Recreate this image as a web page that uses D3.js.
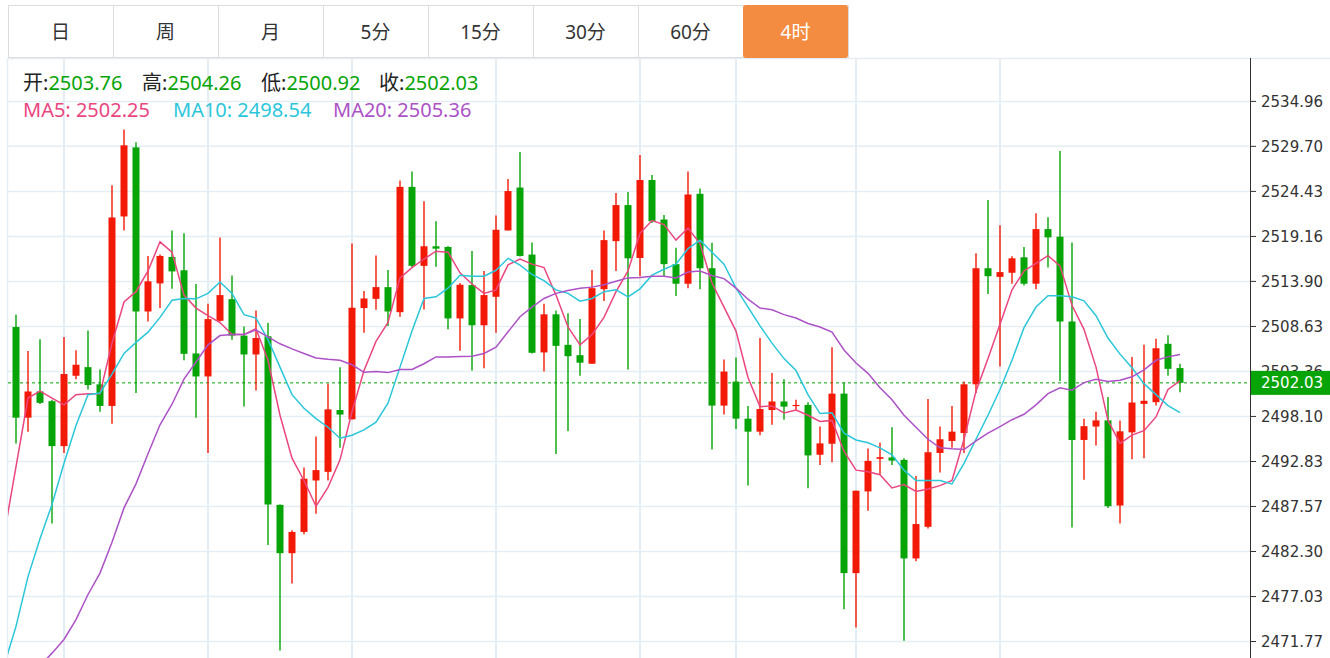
<!DOCTYPE html>
<html>
<head>
<meta charset="utf-8">
<script src="https://cdn.jsdelivr.net/npm/d3@7"></script>
<style>
body { margin: 0; background: #fff; }
svg { display: block; }
</style>
</head>
<body>
<div id="chart"></div>
<script>
const W = 1330, H = 658;
const plot = {left: 8, right: 1250, top: 58, bottom: 658};

const tabLabels = ["日", "周", "月", "5分", "15分", "30分", "60分", "4时"];
const activeTab = "4时";

// 4h bars, oldest first (98 visible bars)
const openVals = [2508.57,2497.96,2501.02,2499.89,2494.63,2502.86,2503.87,2501.86,2499.33,2521.50,
  2529.58,2510.38,2513.67,2516.76,2515.20,2505.47,2502.78,2509.29,2511.82,2507.56,
  2505.35,2507.48,2487.76,2482.10,2484.59,2490.61,2491.62,2498.85,2497.76,2510.78,
  2511.86,2513.23,2510.30,2524.96,2515.72,2518.01,2517.93,2509.57,2513.47,2508.77,
  2512.10,2519.86,2524.88,2517.04,2505.59,2510.05,2506.48,2505.27,2504.27,2512.99,
  2518.61,2522.83,2516.64,2525.76,2521.14,2515.92,2513.63,2524.15,2515.44,2499.37,
  2502.18,2497.84,2496.32,2498.85,2499.85,2499.33,2499.45,2493.62,2494.91,2500.77,
  2479.77,2489.33,2493.14,2493.30,2493.02,2481.49,2485.19,2493.83,2495.23,2496.16,
  2501.86,2515.44,2514.43,2514.91,2516.72,2513.63,2520.02,2519.13,2509.21,2495.35,
  2496.92,2497.64,2487.68,2496.24,2499.57,2499.77,2506.60,2503.76];
const highVals = [2510.01,2505.76,2507.12,2500.05,2507.40,2505.84,2508.17,2503.59,2525.16,2531.67,
  2530.18,2516.88,2517.04,2519.86,2519.53,2513.59,2511.30,2519.05,2514.59,2508.61,
  2510.50,2509.05,2487.80,2484.79,2492.14,2495.75,2501.94,2503.87,2518.33,2512.79,
  2516.92,2515.24,2525.72,2526.76,2523.27,2520.94,2518.01,2513.71,2517.45,2515.12,
  2521.62,2525.88,2529.05,2518.45,2511.30,2510.50,2510.17,2509.49,2515.24,2519.86,
  2524.23,2524.35,2528.69,2526.36,2521.66,2517.85,2526.76,2524.76,2518.41,2504.75,
  2504.99,2499.33,2507.28,2503.18,2502.46,2500.05,2499.77,2496.92,2506.20,2502.06,
  2489.41,2494.35,2495.03,2496.84,2493.22,2491.13,2500.13,2496.92,2499.33,2502.18,
  2517.20,2523.43,2520.46,2516.84,2517.93,2521.86,2521.42,2529.17,2518.45,2497.84,
  2498.65,2500.37,2497.64,2505.07,2506.48,2507.20,2507.60,2504.26];
const lowVals = [2494.95,2496.32,2499.55,2485.59,2493.83,2502.46,2501.26,2498.65,2497.24,2519.86,
  2500.85,2509.21,2510.78,2513.03,2504.67,2497.96,2493.83,2509.21,2507.08,2499.25,
  2501.14,2483.06,2470.73,2478.56,2484.31,2486.71,2490.61,2494.43,2497.76,2507.88,
  2510.58,2508.69,2509.77,2515.52,2510.62,2515.60,2508.29,2505.80,2503.47,2503.75,
  2507.88,2519.86,2516.80,2505.47,2503.35,2493.70,2496.36,2502.86,2504.27,2511.62,
  2515.12,2503.59,2514.51,2520.74,2514.51,2512.18,2513.11,2512.99,2494.23,2498.32,
  2496.64,2490.01,2495.91,2497.12,2497.72,2498.85,2489.69,2492.42,2492.74,2475.55,
  2473.42,2487.08,2491.33,2492.42,2471.85,2481.17,2484.99,2491.54,2494.43,2493.83,
  2500.85,2512.42,2503.95,2513.63,2513.43,2512.99,2515.52,2502.26,2485.11,2490.69,
  2494.71,2487.40,2485.59,2493.10,2493.22,2499.37,2502.86,2500.92];
const closeVals = [2497.96,2501.02,2499.69,2494.63,2503.06,2504.15,2501.78,2499.33,2521.38,2529.82,
  2510.38,2513.91,2516.88,2515.07,2505.43,2502.78,2509.49,2512.30,2507.56,2505.35,
  2507.28,2487.80,2482.10,2484.59,2490.81,2491.82,2498.93,2498.32,2510.82,2511.90,
  2513.23,2510.38,2524.96,2515.72,2518.01,2517.73,2509.57,2513.51,2508.77,2512.30,
  2519.94,2524.47,2516.88,2505.55,2510.05,2506.36,2505.15,2504.39,2513.11,2518.73,
  2522.83,2516.60,2525.76,2520.94,2515.92,2513.63,2524.07,2515.44,2499.37,2503.35,
  2497.84,2496.32,2498.97,2499.85,2499.25,2499.45,2493.54,2494.95,2500.77,2479.77,
  2489.41,2492.90,2493.34,2492.94,2481.49,2485.51,2493.91,2495.43,2496.32,2501.86,
  2515.44,2514.51,2514.99,2516.60,2513.63,2520.02,2519.05,2509.21,2495.35,2496.96,
  2497.64,2487.60,2496.36,2499.73,2499.93,2506.08,2503.67,2502.03];

// moving averages; first entry is the bar just left of the view
const ma5Vals = [2484.18,2492.22,2500.25,2501.06,2500.25,2499.45,2500.65,2500.77,2500.77,2506.68,
  2511.50,2512.70,2515.12,2518.53,2517.32,2512.30,2510.78,2509.89,2509.09,2507.68,
  2507.68,2508.37,2504.67,2498.24,2493.22,2490.61,2487.60,2489.81,2493.02,2498.65,
  2503.47,2506.88,2509.09,2514.31,2515.52,2516.52,2517.44,2517.32,2514.91,2513.59,
  2512.50,2512.91,2515.84,2516.52,2515.92,2515.52,2512.30,2508.57,2506.48,2507.68,
  2509.69,2512.70,2515.12,2519.53,2521.02,2520.54,2518.73,2520.14,2518.33,2513.71,
  2510.90,2508.09,2502.66,2499.25,2499.33,2498.52,2498.85,2498.24,2497.52,2497.64,
  2494.03,2491.82,2491.62,2491.29,2489.73,2490.13,2489.33,2489.61,2490.01,2490.61,
  2495.43,2501.06,2504.87,2508.89,2512.91,2515.12,2516.00,2516.92,2515.72,2511.10,
  2508.29,2503.87,2497.64,2494.95,2495.91,2496.44,2498.04,2501.26,2502.25];
const ma10Vals = [2468.92,2473.54,2479.36,2483.78,2487.80,2492.62,2497.04,2500.65,2500.85,2503.06,
  2505.47,2506.76,2507.96,2509.69,2511.70,2511.90,2511.86,2512.50,2513.83,2512.50,
  2510.01,2509.61,2507.08,2503.87,2500.65,2499.05,2497.84,2496.84,2495.55,2495.91,
  2496.52,2497.44,2499.65,2503.87,2508.09,2511.90,2512.10,2513.11,2514.63,2514.51,
  2514.51,2515.20,2516.60,2515.80,2514.71,2513.99,2512.91,2512.50,2511.58,2511.90,
  2512.70,2512.91,2512.10,2513.03,2514.63,2515.32,2515.92,2517.73,2518.73,2517.32,
  2515.92,2513.11,2510.90,2508.69,2506.68,2504.87,2503.47,2500.65,2498.44,2498.52,
  2496.15,2495.35,2495.03,2494.43,2493.62,2491.82,2490.61,2490.61,2490.61,2490.21,
  2492.62,2495.43,2498.24,2501.26,2504.67,2508.49,2510.90,2512.22,2512.22,2512.10,
  2511.62,2509.89,2507.28,2505.39,2503.79,2501.94,2500.65,2499.37,2498.54];
const ma20Vals = [2464.10,2465.71,2467.31,2468.92,2470.41,2472.01,2474.34,2477.27,2479.77,2483.38,
  2487.40,2490.21,2493.74,2497.12,2499.53,2502.46,2504.47,2506.48,2507.56,2507.68,
  2507.68,2508.21,2507.40,2506.60,2506.00,2505.47,2504.95,2504.79,2504.67,2504.15,
  2503.27,2503.35,2503.23,2503.59,2503.59,2504.27,2505.07,2505.07,2505.11,2505.15,
  2505.47,2506.20,2508.00,2509.77,2510.90,2511.90,2512.50,2512.83,2513.11,2513.23,
  2513.51,2513.91,2514.31,2514.35,2514.51,2514.51,2514.31,2514.99,2515.12,2514.59,
  2514.23,2513.11,2511.82,2510.78,2510.58,2510.01,2509.61,2508.97,2508.57,2507.96,
  2505.88,2504.35,2503.14,2501.46,2500.05,2498.24,2496.84,2495.43,2494.43,2494.31,
  2494.23,2495.23,2496.16,2496.92,2497.72,2498.36,2499.45,2500.77,2501.46,2501.18,
  2502.06,2502.46,2502.18,2502.34,2502.74,2503.55,2504.67,2505.07,2505.36];

const yTicks = [2534.96, 2529.70, 2524.43, 2519.16, 2513.90, 2508.63, 2503.36,
                2498.10, 2492.83, 2487.57, 2482.30, 2477.03, 2471.77];
// bars that carry a vertical grid line
const vGridBars = [5, 17, 29, 41, 53, 61, 71, 83];

const ohlcNames = ["开", "高", "低", "收"];
const maNames = ["MA5", "MA10", "MA20"];

const RED = "#f21a06", GREEN = "#06a406";
const maColors = ["#ea4680", "#2cc6db", "#ac52c6"];
const GRID = "#e5edf4";

const svg = d3.select("#chart").append("svg")
    .attr("width", W)
    .attr("height", H)
    .style("font-family", "'Noto Sans', 'Noto Sans CJK SC', sans-serif");

// index 0 = bar just before the first visible one
let x = d3.scaleLinear().domain([0, 98]).range([4, 1180]);
let y = d3.scaleLinear().domain([2471.77, 2534.96]).range([641.5, 101.4]);

svg.append("clipPath").attr("id", "plotClip")
  .append("rect")
    .attr("x", plot.left)
    .attr("y", plot.top)
    .attr("width", plot.right - plot.left)
    .attr("height", plot.bottom - plot.top);

// grid
let grid = svg.append("g");
grid.selectAll(".hg").data(yTicks).enter()
  .append("line")
    .attr("x1", plot.left).attr("x2", plot.right)
    .attr("y1", d => y(d)).attr("y2", d => y(d))
    .style("stroke", GRID).style("stroke-width", 1.5);
grid.selectAll(".vg").data(vGridBars).enter()
  .append("line")
    .attr("x1", d => x(d)).attr("x2", d => x(d))
    .attr("y1", plot.top).attr("y2", plot.bottom)
    .style("stroke", GRID).style("stroke-width", 2);
grid.append("line")
    .attr("x1", plot.left - 0.5).attr("x2", plot.left - 0.5)
    .attr("y1", plot.top).attr("y2", plot.bottom)
    .style("stroke", GRID).style("stroke-width", 1.5);
grid.append("line")
    .attr("x1", plot.left).attr("x2", W)
    .attr("y1", plot.top + 0.5).attr("y2", plot.top + 0.5)
    .style("stroke", GRID).style("stroke-width", 1.5);

// candles
let bars = openVals.map((o, k) => ({
  i: k + 1, o: o, h: highVals[k], l: lowVals[k], c: closeVals[k]
}));

let chart = svg.append("g").attr("clip-path", "url(#plotClip)");

// last price line
chart.append("line")
    .attr("x1", plot.left).attr("x2", plot.right)
    .attr("y1", y(closeVals[97])).attr("y2", y(closeVals[97]))
    .style("stroke", GREEN).style("stroke-width", 1)
    .style("stroke-dasharray", "3,3");

let candle = chart.selectAll(".candle").data(bars).enter()
  .append("g");

candle.append("line")
    .attr("x1", d => x(d.i)).attr("x2", d => x(d.i))
    .attr("y1", d => y(d.h)).attr("y2", d => y(d.l))
    .style("stroke", d => d.c >= d.o ? RED : GREEN)
    .style("stroke-width", 1.4);

candle.append("rect")
    .attr("x", d => x(d.i) - 3.5)
    .attr("width", 7)
    .attr("y", d => y(Math.max(d.o, d.c)))
    .attr("height", d => Math.max(1.2, Math.abs(y(d.o) - y(d.c))))
    .attr("fill", d => d.c >= d.o ? RED : GREEN);

// moving averages
let line = d3.line().x((d, i) => x(i)).y(d => y(d));
[ma5Vals, ma10Vals, ma20Vals].forEach(function(vals, k) {
  chart.append("path")
      .datum(vals)
      .attr("d", line)
      .style("fill", "none")
      .style("stroke", maColors[k])
      .style("stroke-width", 1.5);
});

// y axis
let axis = svg.append("g").style("font-family", "'DejaVu Sans', sans-serif");
axis.append("line")
    .attr("x1", plot.right + 0.5).attr("x2", plot.right + 0.5)
    .attr("y1", plot.top).attr("y2", plot.bottom)
    .style("stroke", "#333").style("stroke-width", 1);
axis.selectAll(".tick").data(yTicks).enter()
  .append("line")
    .attr("x1", plot.right).attr("x2", plot.right + 6)
    .attr("y1", d => y(d)).attr("y2", d => y(d))
    .style("stroke", "#333");
axis.selectAll(".lbl").data(yTicks).enter()
  .append("text")
    .attr("x", plot.right + 11)
    .attr("y", d => y(d))
    .attr("dy", "0.35em")
    .style("font-size", "15px")
    .style("fill", "#333")
    .text(d => d.toFixed(2));

// last price tag
let tagY = y(closeVals[97]);
axis.append("rect")
    .attr("x", plot.right + 1).attr("y", tagY - 12)
    .attr("width", W - plot.right - 1).attr("height", 24)
    .attr("fill", GREEN);
axis.append("text")
    .attr("x", plot.right + 11).attr("y", tagY)
    .attr("dy", "0.35em")
    .style("font-size", "15px")
    .style("fill", "#fff")
    .text(closeVals[97].toFixed(2));

// tabs
let tabW = 105;
let tabs = svg.append("g");
tabs.append("rect")
    .attr("x", 8.5).attr("y", 5.5)
    .attr("width", tabW * tabLabels.length).attr("height", 52)
    .style("fill", "#fff").style("stroke", "#ddd");
let tab = tabs.selectAll(".tab").data(tabLabels).enter().append("g")
    .attr("transform", (d, i) => `translate(${8 + i * tabW}, 5)`);
tab.append("line")
    .attr("x1", tabW + 0.5).attr("x2", tabW + 0.5)
    .attr("y1", 0).attr("y2", 52)
    .style("stroke", "#ddd");
tab.filter(d => d === activeTab).append("rect")
    .attr("x", 0).attr("y", 0)
    .attr("width", tabW).attr("height", 53)
    .attr("rx", 3)
    .attr("fill", "#f38b40");
tab.append("text")
    .attr("x", tabW / 2).attr("y", 27)
    .attr("dy", "0.35em")
    .style("text-anchor", "middle")
    .style("font-size", "19px")
    .style("fill", d => d === activeTab ? "#fff" : "#333")
    .text(d => d);

// legend
let last = [openVals[97], highVals[97], lowVals[97], closeVals[97]];
let legendX = [23, 142, 261, 379];
let leg1 = svg.selectAll(".ohlc").data(ohlcNames).enter()
  .append("text")
    .attr("x", (d, i) => legendX[i]).attr("y", 83)
    .attr("dy", "0.35em")
    .style("font-size", "20px");
leg1.append("tspan").style("fill", "#222").text(d => d + ":");
leg1.append("tspan").style("fill", GREEN).text((d, i) => last[i].toFixed(2));

let maLast = [ma5Vals[98], ma10Vals[98], ma20Vals[98]];
let maX = [23, 173, 333];
svg.selectAll(".ma").data(maNames).enter()
  .append("text")
    .attr("x", (d, i) => maX[i]).attr("y", 110)
    .attr("dy", "0.35em")
    .style("font-size", "20px")
    .style("fill", (d, i) => maColors[i])
    .text((d, i) => d + ": " + maLast[i].toFixed(2));
</script>
</body>
</html>
